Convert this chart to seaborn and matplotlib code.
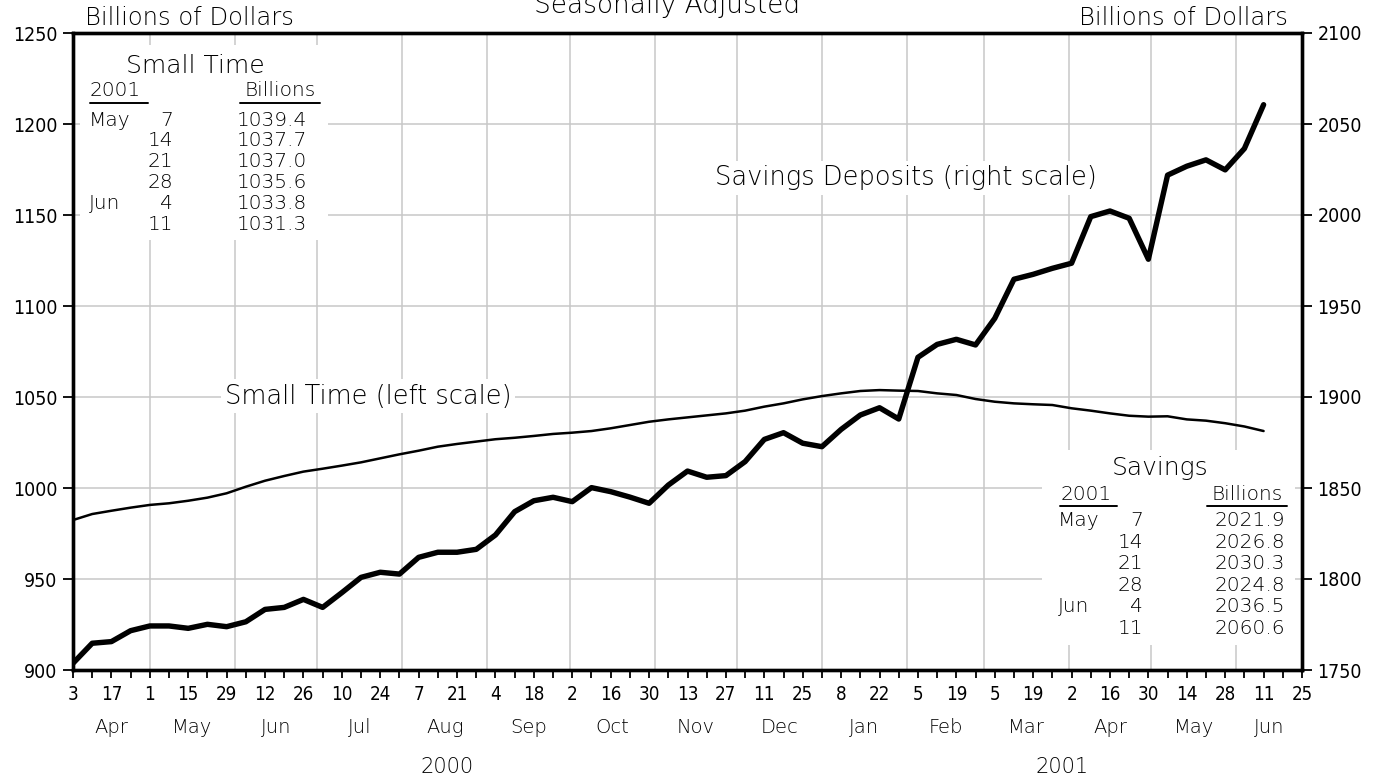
import numpy as np
import pandas as pd
import matplotlib
matplotlib.use("Agg")
import matplotlib.pyplot as plt
import matplotlib.dates as mdates
import matplotlib.transforms as mtransforms
from matplotlib.ticker import FixedLocator, FuncFormatter
from matplotlib.patches import Rectangle
from matplotlib.lines import Line2D
import seaborn as sns

# ---------------- data ----------------
weeks = pd.date_range("2000-04-03", "2001-06-11", freq="7D")

small_time = [
    982.4, 985.7, 987.5, 989.2,
    990.7, 991.6, 993.0, 994.7, 997.1,
    1000.7, 1004.0, 1006.6, 1009.0,
    1010.6, 1012.3, 1014.1, 1016.3, 1018.5,
    1020.5, 1022.7, 1024.2, 1025.5,
    1026.8, 1027.6, 1028.6, 1029.7,
    1030.4, 1031.3, 1032.8, 1034.6, 1036.4,
    1037.7, 1038.8, 1039.9, 1041.0,
    1042.5, 1044.7, 1046.5, 1048.7,
    1050.5, 1052.0, 1053.3, 1053.8, 1053.5,
    1053.3, 1052.0, 1051.1, 1048.9,
    1047.4, 1046.5, 1046.0, 1045.6,
    1043.8, 1042.5, 1041.0, 1039.7, 1039.2,
    1039.4, 1037.7, 1037.0, 1035.6,
    1033.8, 1031.3,
]

savings = [
    1753.7, 1764.7, 1765.6, 1771.6,
    1774.2, 1774.2, 1772.9, 1775.1, 1773.8,
    1776.5, 1783.3, 1784.4, 1788.8,
    1784.4, 1792.5, 1800.9, 1803.7, 1802.7,
    1811.9, 1814.7, 1814.7, 1816.3,
    1824.2, 1837.0, 1843.0, 1844.9,
    1842.5, 1850.2, 1848.0, 1845.0, 1841.6,
    1851.6, 1859.3, 1855.9, 1856.8,
    1864.5, 1876.7, 1880.4, 1874.6,
    1872.7, 1882.2, 1890.1, 1894.1, 1887.9,
    1921.8, 1928.9, 1931.7, 1928.6,
    1943.2, 1964.7, 1967.4, 1970.7,
    1973.5, 1999.1, 2002.2, 1998.2, 1975.7,
    2021.9, 2026.8, 2030.3, 2024.8,
    2036.5, 2060.6,
]

left_ticks = [900, 950, 1000, 1050, 1100, 1150, 1200, 1250]
right_ticks = [1750, 1800, 1850, 1900, 1950, 2000, 2050, 2100]
x_start, x_end = "2000-04-03", "2001-06-25"
month_names = ["Jan", "Feb", "Mar", "Apr", "May", "Jun", "Jul", "Aug",
               "Sep", "Oct", "Nov", "Dec"]

title_text = "Seasonally Adjusted"
units_text = "Billions of Dollars"
label_small = "Small Time (left scale)"
label_sav = "Savings Deposits (right scale)"
table1_title = "Small Time"
table2_title = "Savings"
table_year = "2001"
table_col = "Billions"

# ---------------- style ----------------
sns.set_style("white")
plt.rcParams["font.family"] = ["DejaVu Sans"]
plt.rcParams["font.weight"] = "light"
plt.rcParams["text.color"] = "black"
plt.rcParams["xtick.color"] = "black"
plt.rcParams["ytick.color"] = "black"

W, H = 1385, 780
fig = plt.figure(figsize=(W / 100, H / 100), dpi=100)
fx = lambda px: px / W
fy = lambda py: 1 - py / H

ax = fig.add_axes([fx(73), fy(670), (1302 - 73) / W, (670 - 33) / H])

sns.lineplot(x=weeks, y=small_time, ax=ax, color="black", linewidth=1.8)
ax2 = ax.twinx()
sns.lineplot(x=weeks, y=savings, ax=ax2, color="black", linewidth=3.9)

x0 = mdates.date2num(pd.Timestamp(x_start))
x1 = mdates.date2num(pd.Timestamp(x_end))
ax.set_xlim(x0, x1)
ax.set_ylim(left_ticks[0], left_ticks[-1])
ax2.set_ylim(right_ticks[0], right_ticks[-1])
ax.set_yticks(left_ticks)
ax2.set_yticks(right_ticks)
ax.set_ylabel("")
ax2.set_ylabel("")
ax.set_xlabel("")

# x ticks: labelled every two weeks, tick every week
major = mdates.date2num(pd.date_range(x_start, x_end, freq="14D"))
minor = mdates.date2num(pd.date_range(x_start, x_end, freq="7D"))
ax.xaxis.set_major_locator(FixedLocator(major))
ax.xaxis.set_minor_locator(FixedLocator(minor))
ax.xaxis.set_major_formatter(FuncFormatter(lambda v, p: str(mdates.num2date(v).day)))

tick_font = 13.5
ax.tick_params(axis="x", which="both", direction="out", length=6, width=1.3,
               labelsize=tick_font, pad=5, bottom=True)
ax.tick_params(axis="y", direction="out", length=7, width=1.3,
               labelsize=tick_font + 0.5, pad=4, left=True)
ax2.tick_params(axis="y", direction="out", length=7, width=1.3,
                labelsize=tick_font + 0.5, pad=4, right=True)
for lab in ax.get_xticklabels() + ax.get_yticklabels() + ax2.get_yticklabels():
    lab.set_fontstretch("condensed")

for a in (ax, ax2):
    for s in a.spines.values():
        s.set_linewidth(2.4)
        s.set_color("black")

# grid: horizontal at value ticks, vertical at month starts
ax.set_axisbelow(True)
ax.yaxis.grid(True, color="#c8c8c8", linewidth=1.1)
month_starts = pd.date_range("2000-05-01", x_end, freq="MS")
for d in month_starts:
    ax.axvline(mdates.date2num(d), color="#c8c8c8", linewidth=1.1, zorder=0)

# month and year labels
trans = mtransforms.blended_transform_factory(ax.transData, ax.transAxes)
bounds = [pd.Timestamp(x_start)] + list(month_starts) + [pd.Timestamp(x_end)]
for a_, b_ in zip(bounds[:-1], bounds[1:]):
    c = (mdates.date2num(a_) + mdates.date2num(b_)) / 2
    ax.text(c, -0.0895, month_names[a_.month - 1], transform=trans,
            ha="center", va="center", fontsize=14)
for yr, (ya, yb) in {"2000": (x_start, "2001-01-01"),
                     "2001": ("2001-01-01", x_end)}.items():
    c = (mdates.date2num(pd.Timestamp(ya)) + mdates.date2num(pd.Timestamp(yb))) / 2
    ax.text(c, -0.152, yr, transform=trans, ha="center", va="center",
            fontsize=15)

# header texts
fig.text(fx(667), fy(5), title_text, ha="center", va="center", fontsize=19)
fig.text(fx(85), fy(18), units_text, ha="left", va="center", fontsize=17.5)
fig.text(fx(1288), fy(18), units_text, ha="right", va="center", fontsize=17.5)

# series labels
box = dict(facecolor="white", edgecolor="none", pad=3)
fig.text(fx(368), fy(396), label_small, ha="center", va="center",
         fontsize=18.5, bbox=box, zorder=3)
fig.text(fx(906), fy(178), label_sav, ha="center", va="center",
         fontsize=18.5, bbox=box, zorder=3)

# tables
table_title_map = {195: table1_title, 1160: table2_title}


def table(x_left, x_right, y_top, y_bot, title_x, title_y, year_x, col_x,
          head_y, mon_x, day_x, val_x, row_y0, row_dy, ul_year, ul_col,
          values, fmt):
    fig.add_artist(Rectangle((fx(x_left), fy(y_bot)), fx(x_right - x_left),
                             (y_bot - y_top) / H, transform=fig.transFigure,
                             facecolor="white", edgecolor="none", zorder=1))
    tf = 14.5
    fig.text(fx(title_x), fy(title_y), table_title_map[title_x], ha="center",
             va="center", fontsize=18, zorder=3)
    fig.text(fx(year_x), fy(head_y), table_year, ha="left", va="center",
             fontsize=tf, zorder=3)
    fig.text(fx(col_x), fy(head_y), table_col, ha="center", va="center",
             fontsize=tf, zorder=3)
    for (xa, xb) in (ul_year, ul_col):
        fig.add_artist(Line2D([fx(xa), fx(xb)], [fy(head_y + 12)] * 2,
                              transform=fig.transFigure, color="black",
                              linewidth=1.4, zorder=3))
    dates = weeks[-6:]
    prev = None
    for i, (d, v) in enumerate(zip(dates, values[-6:])):
        y = row_y0 + i * row_dy
        if d.month != prev:
            fig.text(fx(mon_x), fy(y), month_names[d.month - 1], ha="left",
                     va="center", fontsize=tf, zorder=3)
            prev = d.month
        fig.text(fx(day_x), fy(y), str(d.day), ha="right", va="center",
                 fontsize=tf, zorder=3)
        fig.text(fx(val_x), fy(y), fmt.format(v), ha="right", va="center",
                 fontsize=tf, zorder=3)


table(80, 328, 45, 240, 195, 66, 90, 280, 91, 89, 173, 307, 120, 20.8,
      (90, 148), (240, 320), small_time, "{:.1f}")
table(1042, 1295, 450, 645, 1160, 468, 1061, 1247, 494, 1058, 1143, 1285, 521,
      21.4, (1060, 1117), (1207, 1287), savings, "{:.1f}")

fig.savefig("out.png", dpi=100)
